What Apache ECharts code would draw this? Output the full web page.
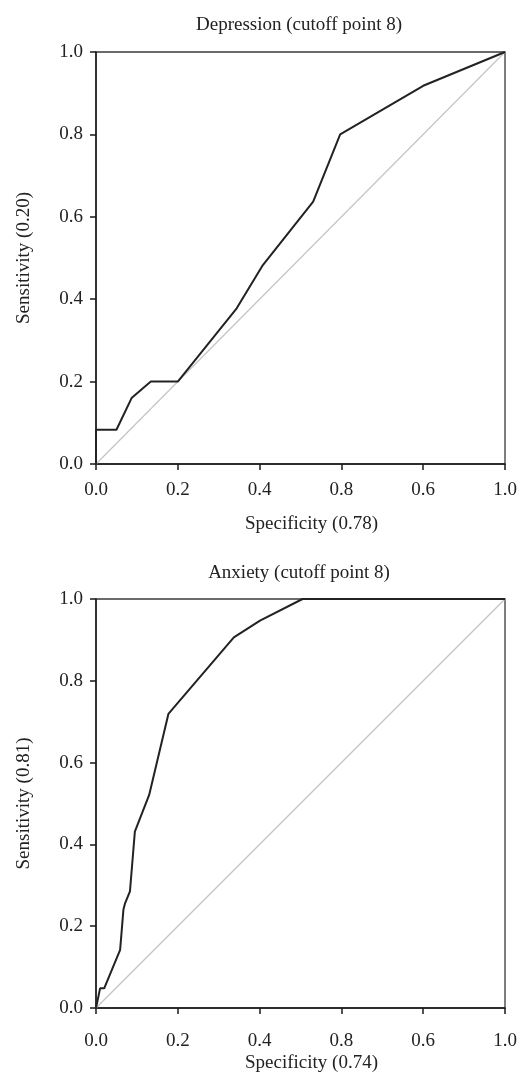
<!DOCTYPE html>
<html>
<head>
<meta charset="utf-8">
<script src="https://cdn.jsdelivr.net/npm/echarts@6/dist/echarts.min.js"></script>
<style>html,body{margin:0;padding:0;background:#fff}#c{width:520px;height:1072px}</style>
</head>
<body>
<div id="c"></div>
<script>
// Data
const xTickLabels = ['0.0', '0.2', '0.4', '0.8', '0.6', '1.0'];
const yTickLabels = ['0.0', '0.2', '0.4', '0.6', '0.8', '1.0'];
const titles = ['Depression (cutoff point 8)', 'Anxiety (cutoff point 8)'];
const xNames = ['Specificity (0.78)', 'Specificity (0.74)'];
const yNames = ['Sensitivity (0.20)', 'Sensitivity (0.81)'];
const depX = [0, 0, 0.05, 0.087, 0.134, 0.2, 0.344, 0.408, 0.531, 0.597, 0.80, 1.0];
const depY = [0, 0.083, 0.083, 0.16, 0.2, 0.2, 0.378, 0.483, 0.637, 0.8, 0.918, 1.0];
const anxX = [0, 0.01, 0.02, 0.059, 0.067, 0.071, 0.083, 0.095, 0.13, 0.177, 0.337, 0.401, 0.505, 1.0];
const anxY = [0, 0.048, 0.048, 0.142, 0.24, 0.256, 0.285, 0.431, 0.521, 0.719, 0.906, 0.947, 1.0, 1.0];
const refX = [0, 1];
const refY = [0, 1];

const FONT = '"Liberation Serif", "DejaVu Serif", serif';
const FS = 19;
const TXT = '#222';
const zip = (a, b) => a.map((v, i) => [v, b[i]]);

function xAxis(i, nameGap, margin) {
  return {
    type: 'value', gridIndex: i, min: 0, max: 1, interval: 0.2,
    name: xNames[i], nameLocation: 'middle', nameGap: nameGap,
    nameTextStyle: { fontFamily: FONT, fontSize: FS, color: TXT, padding: [0, 0, 0, 22] },
    axisLine: { show: true, lineStyle: { color: '#1a1a1a', width: 1.5 } },
    axisTick: { show: true, length: 6, lineStyle: { color: '#1a1a1a', width: 1.5 } },
    axisLabel: { fontFamily: FONT, fontSize: FS, color: TXT, margin: margin,
      formatter: (v) => xTickLabels[Math.round(v / 0.2)] },
    splitLine: { show: false }
  };
}
function yAxis(i) {
  return {
    type: 'value', gridIndex: i, min: 0, max: 1, interval: 0.2,
    name: yNames[i], nameLocation: 'middle', nameGap: 62, nameRotate: 90,
    nameTextStyle: { fontFamily: FONT, fontSize: FS, color: TXT },
    axisLine: { show: true, lineStyle: { color: '#1a1a1a', width: 1.5 } },
    axisTick: { show: true, length: 6, lineStyle: { color: '#1a1a1a', width: 1.5 } },
    axisLabel: { fontFamily: FONT, fontSize: FS, color: TXT, margin: 13,
      formatter: (v) => yTickLabels[Math.round(v / 0.2)] },
    splitLine: { show: false }
  };
}
function lineSeries(i, data, color, width, z) {
  return {
    type: 'line', xAxisIndex: i, yAxisIndex: i, data: data, showSymbol: false, symbol: 'none',
    lineStyle: { color: color, width: width }, z: z, silent: true, animation: false
  };
}

const chart = echarts.init(document.getElementById('c'), null, { renderer: 'canvas' });
chart.setOption({
  animation: false,
  backgroundColor: '#fff',
  title: [
    { text: titles[0], left: 294, top: 11, textAlign: 'center',
      textStyle: { fontFamily: FONT, fontSize: FS, fontWeight: 'normal', color: TXT } },
    { text: titles[1], left: 294, top: 559, textAlign: 'center',
      textStyle: { fontFamily: FONT, fontSize: FS, fontWeight: 'normal', color: TXT } }
  ],
  grid: [
    { left: 96, top: 52, width: 409, height: 412, show: true, borderColor: '#3a3a3a', borderWidth: 1.3,
      backgroundColor: 'transparent', containLabel: false, outerBoundsMode: 'none' },
    { left: 96, top: 599, width: 409, height: 409, show: true, borderColor: '#3a3a3a', borderWidth: 1.3,
      backgroundColor: 'transparent', containLabel: false, outerBoundsMode: 'none' }
  ],
  xAxis: [xAxis(0, 51, 17), xAxis(1, 46, 24)],
  yAxis: [yAxis(0), yAxis(1)],
  series: [
    lineSeries(0, zip(refX, refY), '#c4c4c4', 1.2, 2),
    lineSeries(0, zip(depX, depY), '#222', 2, 3),
    lineSeries(1, zip(refX, refY), '#c4c4c4', 1.2, 2),
    lineSeries(1, zip(anxX, anxY), '#222', 2, 3)
  ]
});
</script>
</body>
</html>
